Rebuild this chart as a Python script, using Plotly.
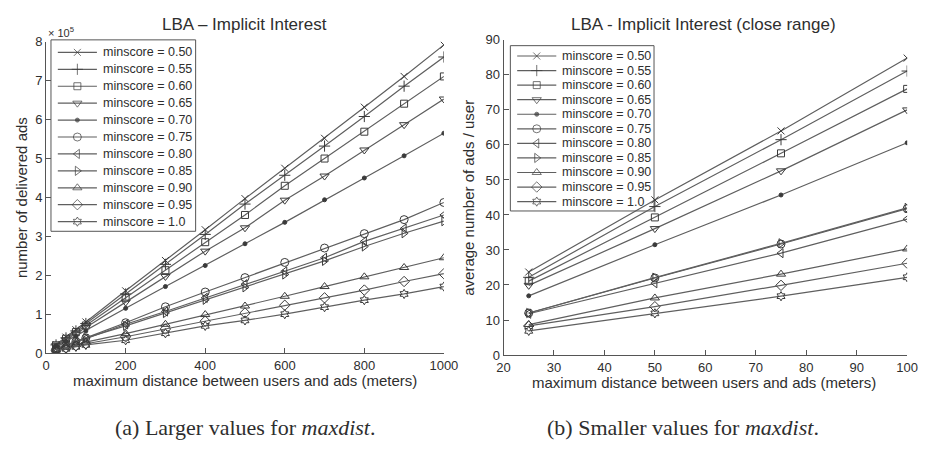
import plotly.graph_objects as go

# ---------------- data ----------------
labels = ["minscore = 0.50", "minscore = 0.55", "minscore = 0.60", "minscore = 0.65",
          "minscore = 0.70", "minscore = 0.75", "minscore = 0.80", "minscore = 0.85",
          "minscore = 0.90", "minscore = 0.95", "minscore = 1.0"]

dist_large = [25, 50, 75, 100, 200, 300, 400, 500, 600, 700, 800, 900, 1000]
# number of delivered ads, in units of 10^5
ads_050 = [0.22, 0.41, 0.60, 0.80, 1.60, 2.38, 3.17, 3.97, 4.75, 5.52, 6.32, 7.11, 7.92]
ads_055 = [0.21, 0.39, 0.57, 0.76, 1.52, 2.28, 3.05, 3.83, 4.57, 5.32, 6.08, 6.86, 7.61]
ads_060 = [0.20, 0.37, 0.54, 0.71, 1.42, 2.13, 2.85, 3.55, 4.30, 5.00, 5.69, 6.41, 7.11]
ads_065 = [0.19, 0.34, 0.49, 0.66, 1.31, 1.97, 2.62, 3.22, 3.93, 4.55, 5.22, 5.87, 6.53]
ads_070 = [0.16, 0.30, 0.43, 0.57, 1.15, 1.71, 2.25, 2.81, 3.36, 3.94, 4.50, 5.07, 5.65]
ads_075 = [0.11, 0.21, 0.30, 0.39, 0.78, 1.19, 1.57, 1.94, 2.33, 2.70, 3.07, 3.43, 3.87]
ads_080 = [0.11, 0.19, 0.28, 0.37, 0.74, 1.07, 1.42, 1.77, 2.10, 2.45, 2.87, 3.20, 3.55]
ads_085 = [0.11, 0.21, 0.30, 0.39, 0.70, 1.03, 1.37, 1.69, 2.02, 2.37, 2.74, 3.08, 3.39]
ads_090 = [0.085, 0.15, 0.22, 0.28, 0.50, 0.74, 0.99, 1.21, 1.46, 1.71, 1.96, 2.20, 2.45]
ads_095 = [0.08, 0.13, 0.19, 0.24, 0.42, 0.62, 0.82, 1.03, 1.23, 1.42, 1.62, 1.84, 2.04]
ads_100 = [0.066, 0.11, 0.16, 0.21, 0.33, 0.51, 0.70, 0.84, 1.00, 1.18, 1.36, 1.52, 1.71]

dist_close = [25, 50, 75, 100]
avg_050 = [23.7, 44.3, 64.0, 84.8]
avg_055 = [22.2, 42.4, 61.5, 81.1]
avg_060 = [21.1, 39.3, 57.6, 76.0]
avg_065 = [19.9, 36.1, 52.6, 70.0]
avg_070 = [16.9, 31.5, 45.7, 60.6]
avg_075 = [12.0, 22.0, 31.7, 41.8]
avg_080 = [11.8, 20.5, 29.1, 38.8]
avg_085 = [12.0, 22.1, 31.9, 42.0]
avg_090 = [8.7, 16.3, 23.1, 30.3]
avg_095 = [8.3, 13.8, 19.9, 26.2]
avg_100 = [6.9, 11.9, 16.8, 22.2]

left_ticks_x = [0, 200, 400, 600, 800, 1000]
left_ticks_y = [0, 1, 2, 3, 4, 5, 6, 7, 8]
right_ticks_x = [20, 30, 40, 50, 60, 70, 80, 90, 100]
right_ticks_y = [0, 10, 20, 30, 40, 50, 60, 70, 80, 90]

ads_series = [ads_050, ads_055, ads_060, ads_065, ads_070, ads_075,
              ads_080, ads_085, ads_090, ads_095, ads_100]
avg_series = [avg_050, avg_055, avg_060, avg_065, avg_070, avg_075,
              avg_080, avg_085, avg_090, avg_095, avg_100]

# ---------------- styles ----------------
symbols = ["x-thin-open", "cross-thin-open", "square-open", "triangle-down-open", "circle",
           "circle-open", "triangle-left-open", "triangle-right-open", "triangle-up-open",
           "diamond-open", "hexagram-open"]
sizes = [7, 8, 7, 8, 4, 8, 8, 8, 8, 8, 7]
LINE = "#5f5f5f"
MK = "#3a3a3a"
TXT = "#2e2e2e"
FONT = "Liberation Sans, Arial, sans-serif"

fig = go.Figure()

def add_series(xs, ys, xa, ya, i):
    fig.add_trace(go.Scatter(
        x=xs, y=ys, xaxis=xa, yaxis=ya, mode="lines+markers",
        line=dict(color=LINE, width=1.2),
        marker=dict(symbol=symbols[i], size=sizes[i], color=MK,
                    line=dict(color=MK, width=1)),
        showlegend=False, hoverinfo="skip"))

for i, ys in enumerate(ads_series):
    add_series(dist_large, ys, "x", "y", i)
for i, ys in enumerate(avg_series):
    add_series(dist_close, ys, "x2", "y2", i)

# ---------------- hand-built legends on hidden axes ----------------
legend_rows = list(range(len(labels)))

def add_legend(xa, ya, xref, yref):
    for i, row in enumerate(legend_rows):
        fig.add_trace(go.Scatter(
            x=[7, 27, 47], y=[row, row, row], xaxis=xa, yaxis=ya,
            mode="lines+markers", line=dict(color=LINE, width=1.2),
            marker=dict(symbol=symbols[i], size=[0, sizes[i], 0], color=MK,
                        line=dict(color=MK, width=1)),
            showlegend=False, hoverinfo="skip"))
        fig.add_annotation(x=51, y=row, xref=xref, yref=yref, text=labels[i],
                           showarrow=False, xanchor="left", yanchor="middle",
                           font=dict(family=FONT, size=12.5, color=TXT))
    fig.add_shape(type="rect", xref=xref + " domain", yref=yref + " domain",
                  x0=0, x1=1, y0=0, y1=1, layer="below",
                  line=dict(color="#555555", width=1), fillcolor="white")

add_legend("x3", "y3", "x3", "y3")
add_legend("x4", "y4", "x4", "y4")

W, H = 928, 451
def px_x(p):
    return p / W
def px_y(p):
    return 1 - p / H

axis_common = dict(showline=True, linecolor="#555555", linewidth=1, ticks="inside",
                   ticklen=5, tickcolor="#555555", showgrid=False, zeroline=False,
                   tickfont=dict(family=FONT, size=13, color=TXT))

fig.update_layout(
    width=W, height=H, margin=dict(l=0, r=0, t=0, b=0),
    paper_bgcolor="white", plot_bgcolor="rgba(0,0,0,0)",
    xaxis=dict(domain=[px_x(40), px_x(447)], range=[0, 1000], tickvals=left_ticks_x,
               anchor="y", **axis_common),
    yaxis=dict(domain=[px_y(358), px_y(36)], range=[0, 8], tickvals=left_ticks_y,
               anchor="x", **axis_common),
    xaxis2=dict(domain=[px_x(508), px_x(921)], range=[20, 100], tickvals=right_ticks_x,
                anchor="y2", **axis_common),
    yaxis2=dict(domain=[px_y(360), px_y(34)], range=[0, 90], tickvals=right_ticks_y,
                anchor="x2", **axis_common),
    xaxis3=dict(domain=[px_x(45), px_x(193)], range=[0, 148], visible=False,
                anchor="y3", fixedrange=True),
    yaxis3=dict(domain=[px_y(232), px_y(34)], range=[10.57, -0.74], visible=False,
                anchor="x3", fixedrange=True),
    xaxis4=dict(domain=[px_x(515), px_x(662)], range=[0, 147], visible=False,
                anchor="y4", fixedrange=True),
    yaxis4=dict(domain=[px_y(211), px_y(40)], range=[10.645, -0.71], visible=False,
                anchor="x4", fixedrange=True),
)

def note(text, x, y, size, family=FONT, angle=0, xanchor="center"):
    fig.add_annotation(text=text, x=px_x(x), y=px_y(y), xref="paper", yref="paper",
                       showarrow=False, xanchor=xanchor, yanchor="middle", textangle=angle,
                       font=dict(family=family, size=size, color=TXT))

note("LBA – Implicit Interest", 243, 18, 17)
note("LBA - Implicit Interest (close range)", 713, 18, 17)
note("× 10<sup>5</sup>", 40, 26, 11, xanchor="left")
note("maximum distance between users and ads (meters)", 243.5, 386, 15)
note("maximum distance between users and ads (meters)", 713, 388, 15)
note("number of delivered ads", 15, 197, 15, angle=-90)
note("average number of ads / user", 472, 197, 15, angle=-90)
SERIF = "Liberation Serif, Times New Roman, serif"
note("(a) Larger values for <i>maxdist</i>.", 243, 435, 22, family=SERIF)
note("(b) Smaller values for <i>maxdist</i>.", 692, 435, 22, family=SERIF)

fig.write_html("out.html")
